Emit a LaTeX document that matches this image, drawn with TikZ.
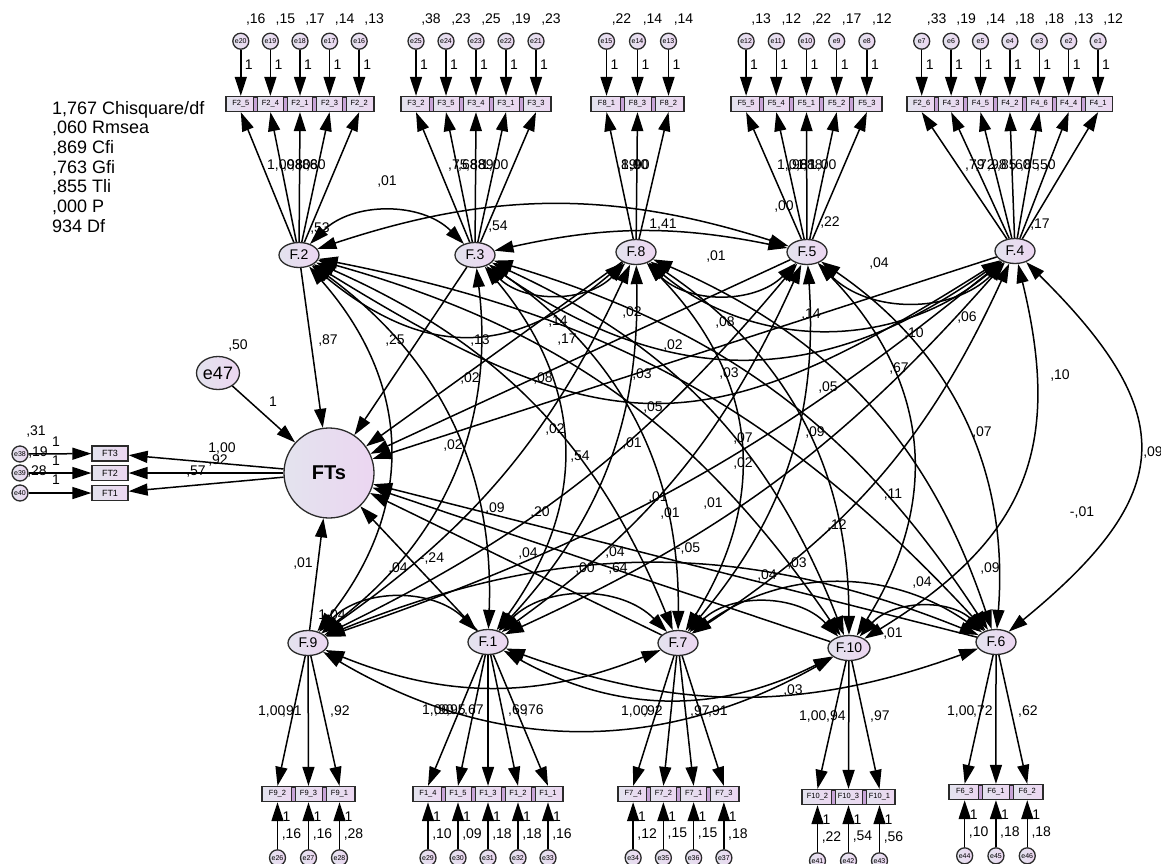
\documentclass[tikz,border=0pt]{standalone}
\usepackage{fontspec}
\setmainfont{Liberation Sans}
\usetikzlibrary{arrows.meta,positioning,shapes.geometric,calc}
\definecolor{lavgrey}{HTML}{E3E3EE}
\definecolor{lavpink}{HTML}{ECD6F1}
\definecolor{lavsep}{HTML}{C7A3D7}
\definecolor{rim}{HTML}{2B2B2B}

\begin{document}
\begin{tikzpicture}[x=1pt, y=-1pt,
    lav/.style={left color=lavgrey, right color=lavpink, draw=rim, line width=1.3pt},
    factor/.style={lav, ellipse, minimum width=40pt, minimum height=25pt, inner sep=0pt, font=\fontsize{14}{14}\selectfont},
    item/.style={lav, rectangle, minimum height=15pt, inner sep=0pt, font=\fontsize{7.5}{7.5}\selectfont},
    resid/.style={lav, circle, minimum size=16pt, inner sep=0pt, font=\fontsize{7}{7}\selectfont},
    divider/.style={fill=lavsep, draw=rim, line width=0.8pt},
    arrow/.style={-{Triangle[length=19pt,width=12pt]}, line width=1.5pt},
    cov/.style={{Triangle[length=19pt,width=12pt]}-{Triangle[length=19pt,width=12pt]}, line width=1.5pt},
    val/.style={font=\fontsize{14}{14}\selectfont, inner sep=0pt},
    stat/.style={font=\fontsize{18}{18}\selectfont, inner sep=0pt, anchor=base west}
]
\useasboundingbox (0,0) rectangle (1161,863);
\fill[white] (0,0) rectangle (1161,863);

% fit indices
\foreach \t [count=\i] in {{1,767 Chisquare/df},{,060 Rmsea},{,869 Cfi},{,763 Gfi},{,855 Tli},{,000 P},{934 Df}}
  \node[stat] at (52,{114+(\i-1)*19.7}) {\t};

% latent factors
\node[factor] (f2) at (299,255) {F.2};
\node[factor] (f3) at (475,255) {F.3};
\node[factor] (f8) at (636,252) {F.8};
\node[factor] (f5) at (807,252) {F.5};
\node[factor] (f4) at (1015,251) {F.4};
\node[factor] (f9) at (308,643) {F.9};
\node[factor] (f1) at (488,642) {F.1};
\node[factor] (f7) at (678,643) {F.7};
\node[factor, minimum width=42pt] (f10) at (849,648) {F.10};
\node[factor] (f6) at (996,642) {F.6};
\node[lav, circle, minimum size=90pt, inner sep=0pt, font=\fontsize{20}{20}\selectfont\bfseries] (fts) at (329,473) {FTs};
\node[lav, ellipse, minimum width=43pt, minimum height=33pt, inner sep=0pt, font=\fontsize{18}{18}\selectfont] (e47) at (218,373) {e47};
\node[val] at (320,229) {,53};

% indicators of the upper factors
\foreach \fac/\xa/\w/\items in {
  f2/226/29.6/{F2\_5/e20/{,16},F2\_4/e19/{,15},F2\_1/e18/{,17},F2\_3/e17/{,14},F2\_2/e16/{,13}},
  f3/401/30/{F3\_2/e25/{,38},F3\_5/e24/{,23},F3\_4/e23/{,25},F3\_1/e22/{,19},F3\_3/e21/{,23}},
  f8/591/31/{F8\_1/e15/{,22},F8\_3/e14/{,14},F8\_2/e13/{,14}},
  f5/731/30.2/{F5\_5/e12/{,13},F5\_4/e11/{,12},F5\_1/e10/{,22},F5\_2/e9/{,17},F5\_3/e8/{,12}},
  f4/907/29.4/{F2\_6/e7/{,33},F4\_3/e6/{,19},F4\_5/e5/{,14},F4\_2/e4/{,18},F4\_6/e3/{,18},F4\_4/e2/{,13},F4\_1/e1/{,12}}}{
  \foreach \lab/\e/\v [count=\k] in \items {
    \pgfmathsetmacro\cx{\xa+(\k-0.5)*\w}
    \node[item, minimum width=\w pt] (\fac i\k) at (\cx,104) {\lab};
    \ifnum\k>1 \filldraw[divider] ({\cx-0.5*\w-2},97) rectangle ({\cx-0.5*\w+2},111); \fi
    \node[resid, above=46pt of \fac i\k] (\e) {\e};
    \draw[arrow] (\e) -- (\fac i\k);
    \draw[arrow] (\fac) -- (\fac i\k.south);
    \node[val] at (\cx+8,65) {1};
    \node[val] at (\cx+15,20) {\v};
  }
}

% indicators of the lower factors
\foreach \fac/\xa/\w/\yb/\items in {
  f9/262/31/794/{F9\_2/e26/{,16},F9\_3/e27/{,16},F9\_1/e28/{,28}},
  f1/413/30/794/{F1\_4/e29/{,10},F1\_5/e30/{,09},F1\_3/e31/{,18},F1\_2/e32/{,18},F1\_1/e33/{,16}},
  f7/618/30.25/794/{F7\_4/e34/{,12},F7\_2/e35/{,15},F7\_1/e36/{,15},F7\_3/e37/{,18}},
  f10/802/31/797/{F10\_2/e41/{,22},F10\_3/e42/{,54},F10\_1/e43/{,56}},
  f6/949/31.3/792/{F6\_3/e44/{,10},F6\_1/e45/{,18},F6\_2/e46/{,18}}}{
  \foreach \lab/\e/\v [count=\k] in \items {
    \pgfmathsetmacro\cx{\xa+(\k-0.5)*\w}
    \node[item, minimum width=\w pt] (\fac i\k) at (\cx,\yb) {\lab};
    \ifnum\k>1 \filldraw[divider] ({\cx-0.5*\w-2},\yb-7) rectangle ({\cx-0.5*\w+2},\yb+7); \fi
    \node[resid, below=47pt of \fac i\k] (\e) {\e};
    \draw[arrow] (\e) -- (\fac i\k);
    \draw[arrow] (\fac) -- (\fac i\k.north);
    \node[val] at (\cx+9,\yb+23) {1};
    \node[val] at (\cx+14,\yb+40) {\v};
  }
}

% outcome indicators
\node[item, minimum width=36pt, font=\fontsize{9}{9}\selectfont] (ft3) at (110,453.5) {FT3};
\node[item, minimum width=36pt, font=\fontsize{9}{9}\selectfont] (ft2) at (110,473) {FT2};
\node[item, minimum width=36pt, font=\fontsize{9}{9}\selectfont] (ft1) at (110,493) {FT1};
\node[resid] (e38) at (20,454) {e38};
\node[resid] (e39) at (20,473) {e39};
\node[resid] (e40) at (20,493) {e40};
\draw[arrow] (e38) -- (ft3);
\draw[arrow] (e39) -- (ft2);
\draw[arrow] (e40) -- (ft1);
\foreach \b in {ft3,ft2,ft1}
  \draw[arrow] (fts) -- (\b);

% structural paths
\draw[arrow] (e47) -- (fts);
\foreach \fac in {f2,f3,f8,f5,f4,f9,f1,f7,f10,f6}
  \draw[arrow] (\fac) -- (fts);

% covariances
\foreach \a/\b/\ang/\lo in {f2/f3/45/1, f2/f5/18/1, f3/f5/12/1, f2/f8/-40/1.2, f2/f4/-32/1.3,
  f3/f8/-45/1, f3/f4/-35/1.1, f8/f5/-45/1, f8/f4/-40/1, f5/f4/-45/1,
  f9/f1/45/1, f1/f7/45/1, f7/f10/45/1, f10/f6/45/1, f9/f7/-22/1,
  f9/f10/-30/1, f9/f6/22/1, f1/f10/-28/1, f1/f6/-20/1, f7/f6/35/1,
  f2/f9/40/1.1, f2/f1/28/1, f2/f7/22/1, f2/f10/20/1, f2/f6/18/1,
  f3/f9/30/1, f3/f1/38/1.1, f3/f7/28/1, f3/f10/22/1, f3/f6/20/1,
  f8/f9/15/1, f8/f1/22/1, f8/f7/38/1.1, f8/f10/28/1, f8/f6/24/1,
  f5/f9/12/1, f5/f1/15/1, f5/f7/22/1, f5/f10/38/1.1, f5/f6/30/1,
  f4/f9/10/1, f4/f1/12/1, f4/f7/16/1, f4/f10/36/1.2, f4/f6/48/1.5}
  \draw[cov] (\a) to[bend left=\ang, looseness=\lo] (\b);

% estimates
\foreach \px/\py/\t in {498/227/{,54}, 663/225/{1,41}, 830/223/{,22}, 1040/225/{,17}, 332/615/{1,04},
  387/182/{,01}, 784/207/{,00}, 716/257/{,01}, 879/263/{,04}, 632/312/{,02}, 725/322/{,08},
  811/315/{,14}, 967/317/{,06}, 914/333/{,10}, 899/368/{,67}, 673/345/{,02}, 642/374/{,03},
  729/373/{,03}, 653/407/{,05}, 828/387/{,05}, 1060/375/{,10}, 815/432/{,09}, 982/432/{,07},
  328/340/{,87}, 395/340/{,25}, 480/340/{,13}, 558/322/{,14}, 567/340/{,17}, 470/378/{,02},
  543/378/{,08}, 555/429/{,02}, 453/445/{,02}, 632/443/{,01}, 580/457/{,54}, 743/438/{,07},
  743/463/{,02}, 1153/452/{,09}, 893/495/{,11}, 1082/512/{-,01}, 495/508/{,09}, 540/512/{,20},
  658/497/{,01}, 670/513/{,01}, 713/503/{,01}, 688/548/{-,05}, 528/553/{,04}, 615/552/{,04},
  585/568/{,00}, 618/568/{,64}, 398/568/{,04}, 432/558/{-,24}, 303/563/{,01}, 837/525/{,12},
  797/563/{,03}, 767/575/{,04}, 922/582/{,04}, 990/568/{,09}, 893/633/{,01}, 793/690/{,03},
  238/345/{,50}, 273/402/{1}, 222/448/{1,00}, 218/460/{,92}, 196/472/{,57},
  36/431/{,31}, 38/452/{,19}, 37/471/{,28}, 56/442/{1}, 56/461/{1}, 56/480/{1}}
  \node[val] at (\px,\py) {\t};

% loadings, printed on top of one another
\foreach \px/\py/\t in {267/166/{1,00}, 283/166/{,98}, 291/166/{,80}, 298/166/{,86}, 306/166/{,80},
  448/166/{,75}, 458/166/{,68}, 466/166/{,88}, 474/166/{,89}, 481/166/{1,00},
  617/166/{,89}, 621/166/{1,00}, 630/166/{,90},
  777/166/{1,01}, 788/166/{,98}, 796/166/{,81}, 803/166/{,88}, 809/166/{1,00},
  965/166/{,79}, 975/166/{,72}, 987/166/{,98}, 997/166/{,85}, 1011/166/{,60}, 1020/166/{,85}, 1036/166/{,50},
  258/711/{1,00}, 282/711/{,91}, 330/711/{,92},
  422/710/{1,00}, 434/710/{,90}, 446/710/{,95}, 464/710/{,67}, 508/710/{,69}, 524/710/{,76},
  621/711/{1,00}, 643/711/{,92}, 690/711/{,97}, 708/711/{,91},
  799/716/{1,00}, 826/716/{,94}, 870/716/{,97},
  947/711/{1,00}, 973/711/{,72}, 1018/711/{,62}}
  \node[val, anchor=west] at (\px,\py) {\t};
\end{tikzpicture}
\end{document}
